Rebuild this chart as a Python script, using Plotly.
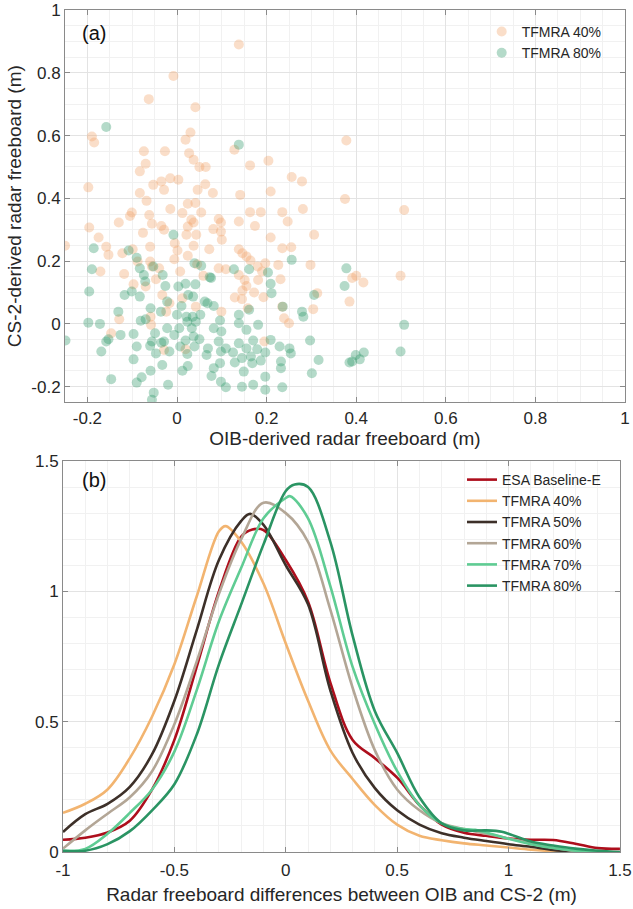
import plotly.graph_objects as go

# ---------------- Panel (a) data: scatter ----------------
tfmra40_x = [0.138,-0.008,-0.063,0.041,-0.19,-0.185,0.019,0.03,0.128,0.378,-0.074,-0.027,0.027,0.037,0.05,0.064,0.163,0.204,-0.07,-0.083,
             0.256,0.279,-0.198,-0.053,-0.035,-0.029,-0.015,0.003,-0.083,0.046,0.063,0.08,0.141,0.209,0.375,-0.068,0.024,0.041,-0.015,0.054,
             0.163,0.187,0.235,0.281,0.507,-0.101,-0.105,-0.062,0.012,-0.13,-0.056,-0.035,0.032,0.037,0.093,0.098,0.138,0.247,-0.196,-0.029,
             0.024,0.081,0.174,-0.175,-0.076,0.021,0.043,0.098,0.209,0.306,-0.158,-0.005,0.037,0.1,0.138,-0.25,-0.06,-0.099,0.235,0.255,
             -0.153,-0.122,0.001,0.024,0.072,0.146,0.155,0.164,-0.006,-0.06,-0.088,0.045,0.197,0.226,0.298,-0.171,-0.118,-0.056,-0.04,0.093,
             0.109,0.18,0.19,0.138,0.007,0.059,0.40,0.499,0.391,0.416,-0.047,0.151,0.181,0.231,-0.097,-0.07,0.155,0.146,0.172,0.193,
             0.313,-0.033,0.012,0.129,0.145,0.385,-0.017,0.042,0.099,0.158,0.235,0.304,-0.059,-0.024,-0.129,0.239,0.25,-0.058,-0.147,0.195,
             -0.029,0.019]
tfmra40_y = [0.89,0.79,0.716,0.69,0.597,0.578,0.587,0.61,0.555,0.584,0.55,0.55,0.544,0.523,0.50,0.50,0.505,0.52,0.51,0.486,
             0.468,0.454,0.435,0.443,0.454,0.427,0.464,0.459,0.417,0.427,0.445,0.417,0.411,0.422,0.398,0.392,0.383,0.385,0.366,0.355,
             0.356,0.356,0.356,0.366,0.363,0.355,0.344,0.347,0.353,0.323,0.319,0.312,0.332,0.323,0.334,0.323,0.326,0.326,0.307,0.30,
             0.31,0.302,0.312,0.275,0.29,0.284,0.284,0.294,0.275,0.284,0.246,0.257,0.249,0.268,0.238,0.249,0.246,0.238,0.241,0.244,
             0.22,0.225,0.234,0.217,0.238,0.225,0.215,0.202,0.206,0.199,0.199,0.19,0.193,0.188,0.188,0.167,0.159,0.183,0.177,0.177,
             0.174,0.183,0.167,0.156,0.167,0.153,0.153,0.153,0.146,0.132,0.142,0.14,0.14,0.142,0.126,0.119,0.121,0.106,0.10,0.085,
             0.098,0.092,0.082,0.084,0.079,0.071,0.066,0.055,0.039,0.05,0.055,0.047,0.023,0.039,0.015,0.018,0.002,-0.003,-0.03,-0.056,
             -0.083,-0.081]

tfmra80_x = [-0.158,0.138,-0.008,-0.186,-0.108,0.256,-0.19,-0.09,-0.083,-0.053,0.039,0.054,0.127,0.161,0.378,-0.074,-0.032,0.073,0.203,-0.071,
             0.076,-0.026,0.003,0.019,0.041,0.209,-0.196,-0.117,-0.101,0.374,-0.083,0.025,0.036,0.211,0.306,-0.022,0.01,0.062,0.068,0.082,
             0.236,0.161,-0.059,-0.131,-0.036,0.0,0.021,0.035,0.052,0.138,0.279,0.282,-0.07,-0.081,-0.198,-0.172,0.023,0.042,0.096,0.138,
             0.181,0.507,-0.022,0.005,0.033,0.082,-0.126,-0.097,-0.049,-0.006,0.037,0.099,0.155,-0.249,-0.153,-0.158,-0.056,-0.035,-0.029,0.019,
             0.05,0.093,0.138,0.17,0.209,0.297,-0.09,-0.06,0.007,0.039,0.069,0.109,0.155,0.179,0.229,0.251,-0.169,-0.047,-0.017,0.023,
             0.098,0.125,0.197,0.254,0.499,0.399,0.417,-0.097,0.145,0.165,0.187,0.316,0.408,0.385,0.391,-0.033,0.024,0.082,0.096,0.129,
             0.168,0.232,0.232,0.012,0.077,0.149,0.197,0.301,-0.059,-0.09,-0.147,-0.079,-0.02,0.098,0.109,0.145,0.17,0.197,0.235,-0.052,
             -0.056,0.066]
tfmra80_y = [0.627,0.571,0.284,0.241,0.234,0.204,0.174,0.211,0.177,0.183,0.193,0.185,0.174,0.174,0.177,0.156,0.156,0.149,0.164,0.135,
             0.146,0.121,0.119,0.128,0.126,0.128,0.103,0.092,0.103,0.121,0.087,0.092,0.087,0.098,0.092,0.071,0.057,0.071,0.066,0.057,
             0.055,0.045,0.05,0.039,0.039,0.029,0.023,0.023,0.029,0.029,0.039,0.023,0.015,0.01,0.004,0.0,0.007,0.007,0.011,0.002,
             -0.003,-0.003,-0.014,-0.014,-0.014,-0.014,-0.035,-0.032,-0.03,-0.035,-0.04,-0.024,-0.019,-0.053,-0.049,-0.056,-0.056,-0.06,-0.056,-0.053,
             -0.049,-0.056,-0.062,-0.053,-0.051,-0.053,-0.072,-0.07,-0.072,-0.072,-0.078,-0.078,-0.078,-0.081,-0.072,-0.078,-0.088,-0.094,-0.088,-0.096,
             -0.088,-0.091,-0.091,-0.094,-0.088,-0.099,-0.091,-0.113,-0.109,-0.104,-0.117,-0.115,-0.113,-0.123,-0.12,-0.131,-0.134,-0.141,-0.125,-0.123,
             -0.125,-0.12,-0.141,-0.149,-0.166,-0.152,-0.168,-0.157,-0.149,-0.187,-0.176,-0.17,-0.194,-0.184,-0.202,-0.2,-0.194,-0.21,-0.202,-0.219,
             -0.242,-0.099]

# ---------------- Panel (b) data: density curves ----------------
esa_x = [-1.0,-0.9,-0.8,-0.7,-0.6,-0.5,-0.4,-0.3,-0.2,-0.15,-0.1,0.0,0.1,0.2,0.3,0.4,0.5,0.6,0.7,0.8,0.9,1.0,1.1,1.2,1.3,1.4,1.5]
esa_y = [0.047,0.055,0.075,0.12,0.24,0.43,0.71,1.0,1.21,1.237,1.235,1.12,0.96,0.65,0.43,0.36,0.285,0.18,0.105,0.074,0.062,0.052,0.047,0.046,0.032,0.015,0.012]

t40_x = [-1.0,-0.9,-0.8,-0.7,-0.6,-0.5,-0.4,-0.3,-0.27,-0.2,-0.1,0.0,0.1,0.2,0.3,0.4,0.5,0.6,0.7,0.8,0.9,1.0,1.1,1.2,1.3]
t40_y = [0.15,0.185,0.24,0.36,0.52,0.72,0.98,1.23,1.25,1.19,1.03,0.80,0.58,0.39,0.28,0.18,0.105,0.062,0.045,0.033,0.025,0.017,0.009,0.003,0.0]

t50_x = [-1.0,-0.9,-0.8,-0.7,-0.6,-0.5,-0.4,-0.3,-0.2,-0.16,-0.1,0.0,0.1,0.2,0.3,0.4,0.5,0.6,0.7,0.8,0.9,1.0,1.1,1.2,1.3]
t50_y = [0.077,0.145,0.185,0.25,0.375,0.58,0.85,1.12,1.27,1.297,1.255,1.10,0.95,0.62,0.38,0.245,0.16,0.105,0.072,0.055,0.042,0.03,0.02,0.008,0.0]

t60_x = [-1.0,-0.9,-0.8,-0.7,-0.6,-0.5,-0.4,-0.3,-0.2,-0.1,0.0,0.1,0.2,0.3,0.4,0.5,0.6,0.7,0.8,0.9,1.0,1.1,1.2,1.3]
t60_y = [0.013,0.083,0.147,0.21,0.31,0.49,0.73,0.99,1.2,1.34,1.30,1.19,0.93,0.63,0.39,0.24,0.16,0.11,0.088,0.07,0.052,0.034,0.016,0.003]

t70_x = [-1.0,-0.9,-0.8,-0.7,-0.6,-0.5,-0.4,-0.3,-0.2,-0.1,0.0,0.02,0.1,0.2,0.3,0.4,0.5,0.6,0.7,0.8,0.85,0.9,1.0,1.1,1.2,1.3,1.4]
t70_y = [0.005,0.012,0.07,0.15,0.24,0.385,0.62,0.885,1.09,1.28,1.358,1.365,1.28,1.02,0.71,0.49,0.31,0.18,0.11,0.088,0.085,0.075,0.051,0.03,0.015,0.005,0.0]

t80_x = [-1.0,-0.9,-0.8,-0.7,-0.6,-0.5,-0.4,-0.3,-0.2,-0.1,0.0,0.04,0.1,0.2,0.3,0.4,0.5,0.6,0.7,0.8,0.9,0.97,1.0,1.1,1.2,1.3,1.4,1.5]
t80_y = [0.005,0.005,0.03,0.08,0.16,0.26,0.45,0.72,0.95,1.18,1.385,1.41,1.40,1.19,0.83,0.54,0.38,0.21,0.11,0.083,0.083,0.078,0.07,0.04,0.025,0.013,0.005,0.0]

# ---------------- Tick labels ----------------
a_ticks = [-0.2, 0, 0.2, 0.4, 0.6, 0.8, 1]
a_ticktext = ["-0.2", "0", "0.2", "0.4", "0.6", "0.8", "1"]
b_xticks = [-1, -0.5, 0, 0.5, 1, 1.5]
b_xticktext = ["-1", "-0.5", "0", "0.5", "1", "1.5"]
b_yticks = [0, 0.5, 1, 1.5]
b_yticktext = ["0", "0.5", "1", "1.5"]

FONT = "Liberation Sans, Arial, Helvetica, sans-serif"
TXT = "#262626"
AXC = "#8a8a8a"
GRID = "#e3e3e3"
MINOR = "#f1f1f1"

fig = go.Figure()

fig.add_trace(go.Scatter(x=tfmra40_x, y=tfmra40_y, mode="markers", name="TFMRA 40%",
                         marker=dict(size=10, color="rgba(240,160,100,0.35)", line=dict(width=0)),
                         xaxis="x", yaxis="y", legend="legend"))
fig.add_trace(go.Scatter(x=tfmra80_x, y=tfmra80_y, mode="markers", name="TFMRA 80%",
                         marker=dict(size=10, color="rgba(40,150,100,0.35)", line=dict(width=0)),
                         xaxis="x", yaxis="y", legend="legend"))

curves = [
    ("ESA Baseline-E", esa_x, esa_y, "#ad0e1c"),
    ("TFMRA 40%", t40_x, t40_y, "#f2b470"),
    ("TFMRA 50%", t50_x, t50_y, "#3d3029"),
    ("TFMRA 60%", t60_x, t60_y, "#b3a696"),
    ("TFMRA 70%", t70_x, t70_y, "#5fcc93"),
    ("TFMRA 80%", t80_x, t80_y, "#2a9463"),
]
for name, xs, ys, col in curves:
    fig.add_trace(go.Scatter(x=xs, y=ys, mode="lines", name=name,
                             line=dict(color=col, width=2.6, shape="spline", smoothing=1.0),
                             xaxis="x2", yaxis="y2", legend="legend2"))

def axis(rng, tv, tt, domain, anchor, minor_dt, title=None, standoff=4, lblstand=0):
    d = dict(range=rng, domain=domain, anchor=anchor, tickmode="array", tickvals=tv, ticktext=tt,
             showgrid=True, gridcolor=GRID, gridwidth=1, zeroline=False,
             showline=True, linecolor=AXC, linewidth=1, mirror="ticks",
             ticks="inside", ticklen=5, tickcolor=AXC, automargin=False,
             ticklabeloverflow="allow", ticklabelstandoff=lblstand,
             tickfont=dict(family=FONT, size=17, color=TXT),
             minor=dict(tickmode="linear", tick0=0, dtick=minor_dt, showgrid=True, gridcolor=MINOR, ticks=""),
             fixedrange=True)
    if title:
        d["title"] = dict(text=title, font=dict(family=FONT, size=19, color=TXT), standoff=standoff)
    return d

fig.update_layout(
    width=633, height=909,
    margin=dict(l=63, r=8, t=10, b=57, autoexpand=False),
    paper_bgcolor="white", plot_bgcolor="white",
    showlegend=True,
    xaxis=axis([-0.25, 1], a_ticks, a_ticktext, [0.0036, 1.0], "y", 0.05, "OIB-derived radar freeboard (m)", 3),
    yaxis=axis([-0.25, 1], a_ticks, a_ticktext, [0.534, 1.0], "x", 0.05, "CS-2-derived radar freeboard (m)", 4),
    xaxis2=axis([-1, 1.5], b_xticks, b_xticktext, [0.0, 0.991], "y2", 0.1,
                "Radar freeboard differences between OIB and CS-2 (m)", 8, 3),
    yaxis2=axis([0, 1.5], b_yticks, b_yticktext, [0.0, 0.4644], "x2", 0.1),
    legend=dict(x=0.745, y=0.993, xanchor="left", yanchor="top", bgcolor="rgba(0,0,0,0)",
                font=dict(family=FONT, size=14, color=TXT), itemwidth=30, tracegroupgap=0),
    legend2=dict(x=0.71, y=0.4608, xanchor="left", yanchor="top", bgcolor="rgba(0,0,0,0)",
                 font=dict(family=FONT, size=14, color=TXT), itemwidth=30, tracegroupgap=0),
    annotations=[
        dict(text="(a)", x=0.031, y=0.988, xref="paper", yref="paper", xanchor="left", yanchor="top",
             showarrow=False, font=dict(family=FONT, size=20, color="#111111")),
        dict(text="(b)", x=0.031, y=0.4575, xref="paper", yref="paper", xanchor="left", yanchor="top",
             showarrow=False, font=dict(family=FONT, size=20, color="#111111")),
    ],
)

fig.write_html("out.html", config={"displayModeBar": False, "staticPlot": True},
               post_script="document.body.style.margin='0';document.body.style.overflow='hidden';")
